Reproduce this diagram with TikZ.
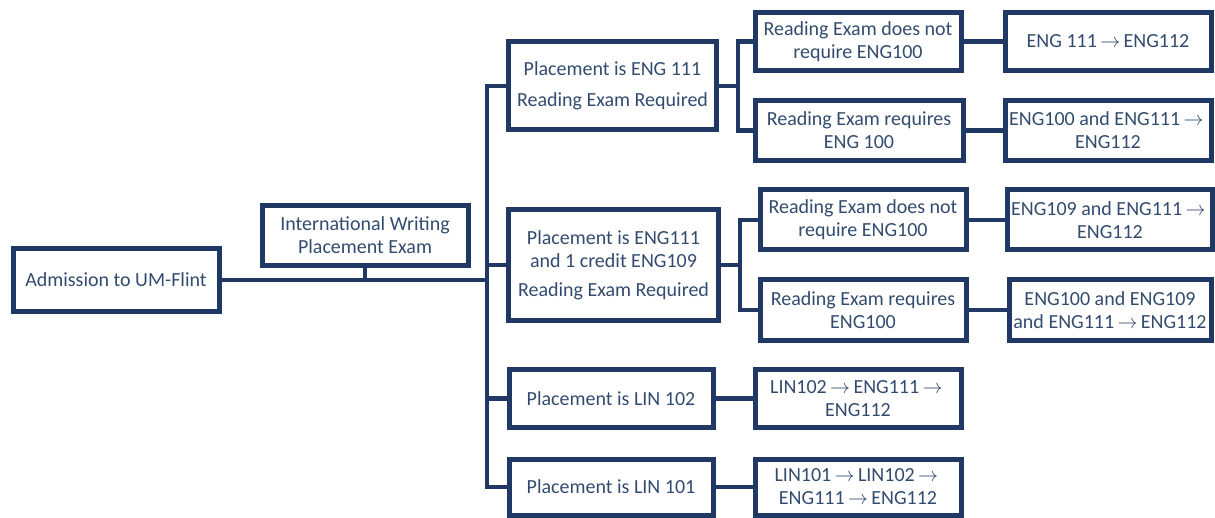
\documentclass[tikz,border=0pt]{standalone}
\usepackage{fontspec}
\setmainfont{Carlito}
\definecolor{boxblue}{RGB}{31,56,100}
\definecolor{txtblue}{RGB}{50,75,110}
\newcommand{\nxt}{\,$\rightarrow$\,}

\begin{document}
\begin{tikzpicture}
[x=0.5pt,y=-0.5pt,%
  every node/.style={draw=boxblue,line width=2.5pt,align=center,inner sep=2pt,
    text=txtblue,font=\fontsize{10}{11.5}\selectfont},%
  wire/.style={draw=boxblue,line width=2.3pt}]
\useasboundingbox (0,0) rectangle (1215,518);
\node[minimum width=103pt,minimum height=31pt] (adm) at (116,280) {Admission to UM-Flint};
\node[minimum width=103pt,minimum height=30pt] (iwpe) at (365,235.5) {International Writing\\Placement Exam};
%%
\node[minimum width=104pt,minimum height=44pt] (p1) at (612.5,86) {Placement is ENG 111\\[4pt]Reading Exam Required};
\node[minimum width=105pt,minimum height=55pt] (p2) at (613.5,265) {Placement is ENG111\\and 1 credit ENG109\\[3pt]Reading Exam Required};
\node[minimum width=102pt,minimum height=29pt] (p3) at (611,398.5) {Placement is LIN 102};
\node[minimum width=102pt,minimum height=28pt] (p4) at (611,487) {Placement is LIN 101};
%%
\node[minimum width=103pt,minimum height=29pt] (r1a) at (858,41.5) {Reading Exam does not\\require ENG100};
\node[minimum width=104pt,minimum height=30pt] (r1b) at (859,130.5) {Reading Exam requires\\ENG 100};
\node[minimum width=103pt,minimum height=29pt] (e1a) at (1108,41.5) {ENG 111\nxt ENG112};
\node[minimum width=103pt,minimum height=30pt] (e1b) at (1108,130.5) {ENG100 and ENG111\nxt\\ENG112};
%%
\node[minimum width=103pt,minimum height=30pt] (r2a) at (863,220) {Reading Exam does not\\require ENG100};
\node[minimum width=103pt,minimum height=30pt] (r2b) at (863,310) {Reading Exam requires\\ENG100};
\node[minimum width=101pt,minimum height=30pt] (e2a) at (1110,220) {ENG109 and ENG111\nxt\\ENG112};
\node[minimum width=101pt,minimum height=30pt] (e2b) at (1110,310) {ENG100 and ENG109\\and ENG111\nxt ENG112};
%%
\node[minimum width=103pt,minimum height=29pt] (l1) at (858,398.5) {LIN102\nxt ENG111\nxt\\ENG112};
\node[minimum width=103pt,minimum height=28pt] (l2) at (858,487) {LIN101\nxt LIN102\nxt\\ENG111\nxt ENG112};
%%
\coordinate (trunk) at (487,280);
\coordinate (b1) at (738,86);
\coordinate (b2) at (740,265);
\path[wire] (adm.east) -- (trunk)
  (iwpe.south) -- (iwpe.south |- trunk)
  (p1.east) -- (b1) (p2.east) -- (b2);
\path[wire]
\foreach \startNode/\endNode in {trunk/p1, trunk/p2, trunk/p3, trunk/p4, b1/r1a, b1/r1b, b2/r2a, b2/r2b}
{
  (\startNode) |- (\endNode.west)
};
\path[wire]
\foreach \startNode/\endNode in {r1a/e1a, r1b/e1b, r2a/e2a, r2b/e2b, p3/l1, p4/l2}
{
  (\startNode.east) -- (\endNode.west)
};
\end{tikzpicture}
\end{document}
